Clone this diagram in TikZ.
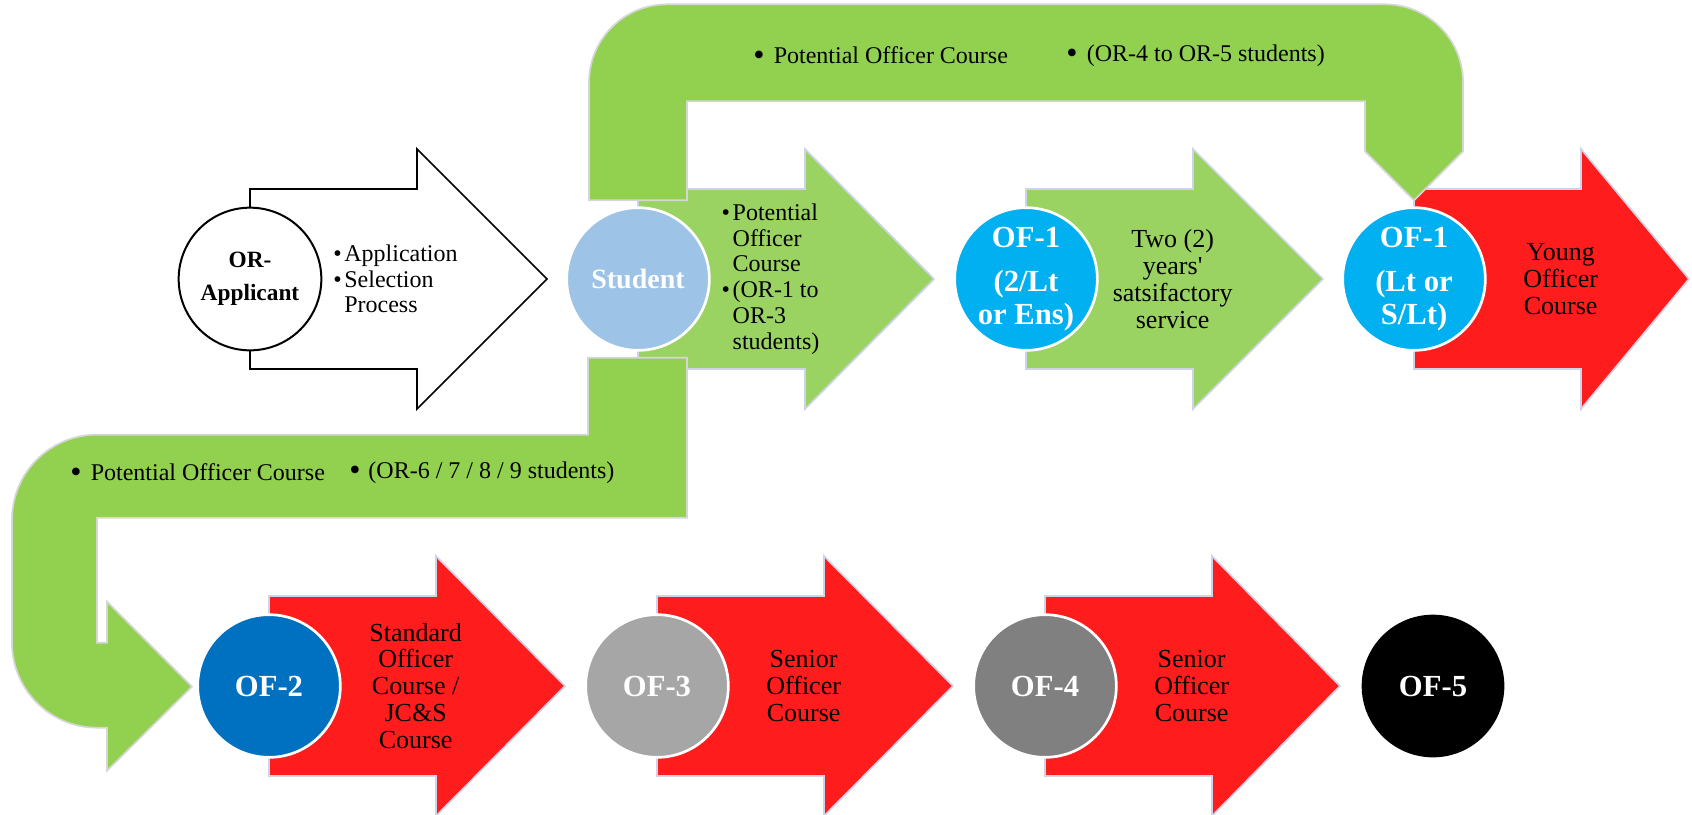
\documentclass[tikz,border=0pt]{standalone}
\usepackage{fontspec}
\setmainfont{Liberation Serif}
\usetikzlibrary{positioning, backgrounds}

\definecolor{bendgreen}{RGB}{146,208,80}
\definecolor{arrgreen}{RGB}{155,211,98}
\definecolor{arrred}{RGB}{255,28,28}
\definecolor{rim}{RGB}{205,212,232}
\definecolor{bendrim}{RGB}{214,214,214}
\definecolor{stublue}{RGB}{157,195,230}
\definecolor{ofcyan}{RGB}{0,176,240}
\definecolor{ofblue}{RGB}{0,112,192}
\definecolor{ofgrey}{RGB}{166,166,166}
\definecolor{ofdark}{RGB}{128,128,128}

\newcommand{\lbul}{\textbullet\hspace{2pt}}
\newcommand{\lpad}{\hphantom{\lbul}}
\newcommand{\bbul}{\raisebox{-1pt}{\fontsize{24}{20}\selectfont\textbullet}}

\begin{document}
\begin{tikzpicture}[x=0.75pt, y=-0.75pt,
      disc/.style={circle, minimum size=107pt, inner sep=0pt,
                   draw=white, line width=2pt, align=center, text=white,
                   font=\bfseries\fontsize{23}{24.5}\selectfont, on grid},
      blk/.style={line width=1.3pt, line join=miter},
      bendarr/.style={fill=bendgreen, draw=bendrim, line width=1.3pt},
      lab/.style={align=center, inner sep=0pt, on grid,
                  font=\fontsize{19.5}{20.2}\selectfont},
      lst/.style={align=left, inner sep=0pt, anchor=west,
                  font=\fontsize{18}{19.3}\selectfont},
      blab/.style={inner sep=0pt, anchor=west,
                   font=\fontsize{18}{20}\selectfont},
    ]

    \useasboundingbox (0,0) rectangle (1692,814);

    % ---- upper row of ranks -----------------------------------------
    \node[disc, fill=white, draw=black, line width=1.5pt, text=black,
          font=\bfseries\fontsize{17.5}{20}\selectfont] (app) at (250,279)
      {OR-\\[5pt]Applicant};
    \node[disc, fill=stublue, font=\bfseries\fontsize{21}{24}\selectfont,
          right=291pt of app] (stu) {Student};
    \node[disc, fill=ofcyan, right=291pt of stu] (of1a)
      {OF-1\\[9pt](2/Lt\\or Ens)};
    \node[disc, fill=ofcyan, right=291pt of of1a] (of1b)
      {OF-1\\[9pt](Lt or\\S/Lt)};

    % ---- lower row of ranks -----------------------------------------
    \node[disc, fill=ofblue] (of2) at (269,686) {OF-2};
    \node[disc, fill=ofgrey, right=291pt of of2] (of3) {OF-3};
    \node[disc, fill=ofdark, right=291pt of of3] (of4) {OF-4};
    \node[disc, fill=black, draw=none, right=291pt of of4] (of5) {OF-5};

    % ---- arrow texts ------------------------------------------------
    \node[lst] (l-app) at ([xshift=8pt]app.east)
      {\lbul Application\\\lbul Selection\\\lpad Process};
    \node[lst] (l-stu) at ([xshift=8pt]stu.east)
      {\lbul Potential\\\lpad Officer\\\lpad Course\\
       \lbul (OR-1 to\\\lpad OR-3\\\lpad students)};
    \node[lab, right=110pt of of1a] (l-serv)
      {Two (2)\\years\textquotesingle\\satsifactory\\service};
    \node[lab, right=110pt of of1b] (l-yoc)
      {Young\\Officer\\Course};
    \node[lab, right=110pt of of2] (l-soc)
      {Standard\\Officer\\Course /\\JC\&S\\Course};
    \node[lab, right=110pt of of3] (l-sen1)
      {Senior\\Officer\\Course};
    \node[lab, right=110pt of of4] (l-sen2)
      {Senior\\Officer\\Course};

    % ---- bent arrow texts -------------------------------------------
    \node[blab] (b-top1) at (753,56)
      {\bbul\hspace{7pt}Potential Officer Course};
    \node[blab] (b-top2) at (1066,56)
      {\bbul\hspace{7pt}(OR-4 to OR-5 students)};
    \node[blab] (b-low1) at (70,473)
      {\bbul\hspace{7pt}Potential Officer Course};
    \node[blab] (b-low2) at (349,473)
      {\bbul\hspace{6pt}(OR-6 / 7 / 8 / 9 students)};

    \begin{pgfonlayer}{background}
      % ---- block arrows ---------------------------------------------
      \foreach \c/\col/\lc/\hd in {app/white/black/130, stu/arrgreen/rim/129,
          of1a/arrgreen/rim/130, of1b/arrred/rim/108, of2/arrred/rim/129,
          of3/arrred/rim/129, of4/arrred/rim/128}
        \path[blk, fill=\col, draw=\lc] (\c.center) ++(0,-90) -- ++(167,0)
          -- ++(0,-40) -- ++(\hd,130) -- ++(-\hd,130) -- ++(0,-40)
          -- ++(-167,0) -- cycle;

      % ---- bent arrows from the student -----------------------------
      \path[bendarr] (stu.north) ++(-49,-6) -- ++(0,-118)
        arc[start angle=180, end angle=270, radius=78] -- ++(718,0)
        arc[start angle=270, end angle=360, radius=78] -- ++(0,69)
        -- ++(-49,49) -- ++(-49,-49) -- ++(0,-50) -- ++(-678,0)
        -- ++(0,99) -- cycle;
      \path[bendarr] (stu.south) ++(49,6) -- ++(0,160) -- ++(-590,0)
        -- ++(0,125) -- ++(10,0) -- ++(0,-41) -- ++(85,85) -- ++(-85,84)
        -- ++(0,-43) -- ++(-10,0)
        arc[start angle=90, end angle=180, radius=85] -- ++(0,-123)
        arc[start angle=180, end angle=270, radius=85] -- ++(491,0)
        -- ++(0,-77) -- cycle;
    \end{pgfonlayer}

  \end{tikzpicture}
\end{document}
